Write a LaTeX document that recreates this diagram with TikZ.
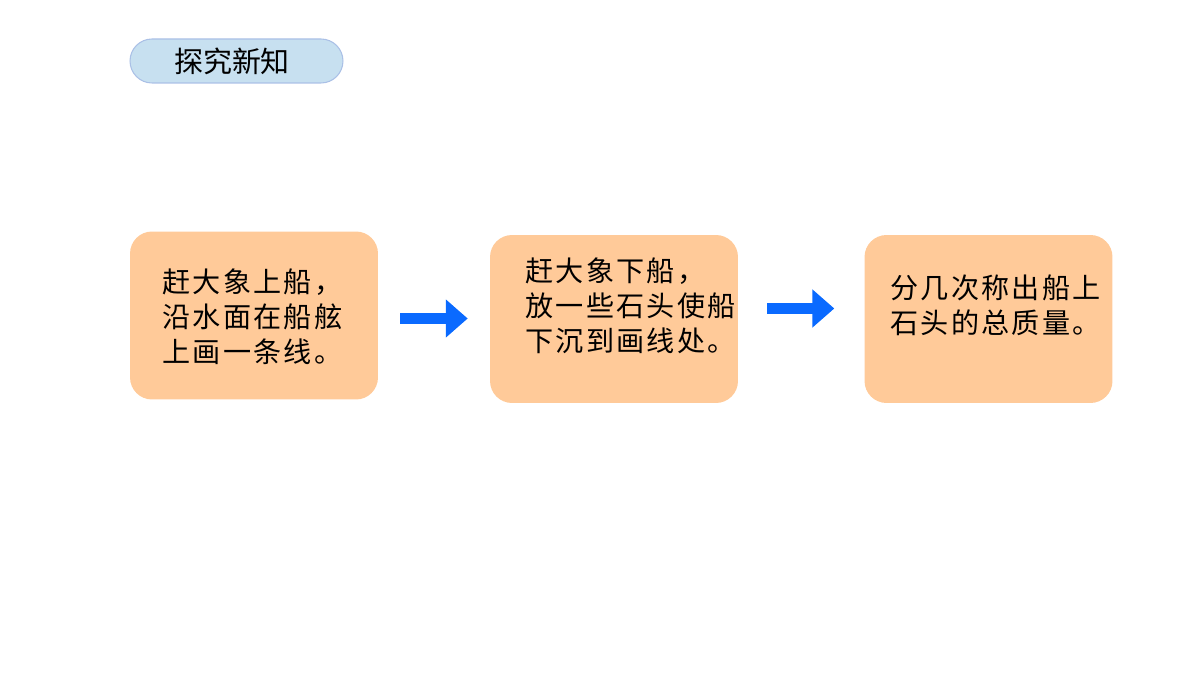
\documentclass[tikz,border=0pt]{standalone}
\usepackage{fontspec}
\newfontfamily\cjk{Noto Sans CJK SC}
\newfontfamily\cjkbox[LetterSpace=8]{Noto Sans CJK SC}
\usetikzlibrary{arrows.meta,calc}
\definecolor{peach}{RGB}{255,202,153}
\definecolor{tagfill}{RGB}{199,224,240}
\definecolor{tagline}{RGB}{170,192,230}
\definecolor{flowblue}{RGB}{10,106,255}
\tikzset{
	stepbox/.style={fill=peach,rounded corners=0.44cm,minimum width=4.96cm,minimum height=3.36cm,inner sep=0},
	steptext/.style={anchor=west,align=left,inner sep=0,font=\cjkbox\fontsize{16}{19.8}\selectfont},
	flow/.style={draw=flowblue,line width=6.2pt,-{Triangle[length=12.5pt,width=21pt]}}
}
\begin{document}
\begin{tikzpicture}[x=0.02cm,y=-0.02cm]
		\useasboundingbox (0,0) rectangle (1200,675);
		\node[fill=tagfill,draw=tagline,line width=0.6pt,rounded corners=0.44cm,minimum width=4.26cm,minimum height=0.88cm,inner sep=0] (tag) at (236.5,61) {};
		\node[font=\cjk\fontsize{16.5}{19}\selectfont,inner sep=0] (tagtext) at (232,61) {探究新知};
		\node[stepbox] (b1) at (254,315.5) {};
		\node[stepbox] (b2) at (614,319) {};
		\node[stepbox] (b3) at (988.5,319) {};
		\node[steptext] (t1) at (162,317) {赶大象上船，\\沿水面在船舷\\上画一条线。};
		\node[steptext] (t2) at (525,305.5) {赶大象下船，\\放一些石头使船\\下沉到画线处。};
		\node[steptext] (t3) at (890,305.5) {分几次称出船上\\石头的总质量。};
		\draw[flow,shorten <=12.5pt,shorten >=12.5pt] ($(b1.east)+(0,3)$) to ($(b1.east -| b2.west)+(0,3)$);
		\draw[flow,shorten <=16.4pt,shorten >=17pt] ($(b2.east)+(0,-10.5)$) to ($(b2.east -| b3.west)+(0,-10.5)$);
	\end{tikzpicture}
\end{document}
